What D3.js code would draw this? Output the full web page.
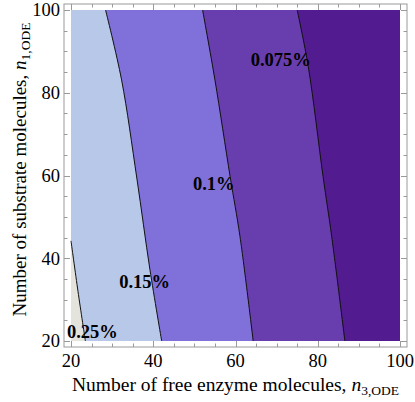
<!DOCTYPE html>
<html>
<head>
<meta charset="utf-8">
<script src="https://cdn.jsdelivr.net/npm/d3@7"></script>
<style>
  html, body { margin: 0; padding: 0; background: #fff; }
  svg { display: block; font-family: "Liberation Serif", "Times New Roman", Times, serif; }
</style>
</head>
<body>
<svg id="chart" width="415" height="402"></svg>
<script>
// ---- data ----
const xDomain = [20, 100];
const yDomain = [20, 100];
const majorTicks = [20, 40, 60, 80, 100];
const minorTicks = [20, 25, 30, 35, 40, 45, 50, 55, 60, 65, 70, 75, 80, 85, 90, 95, 100];

const levelLabels = ["0.25%", "0.15%", "0.1%", "0.075%"];
// contour lines: [n3, n1] points
const contour025 = [[20, 44.2], [21.7, 32.0], [23.5, 20]];
const contour015 = [[28.4, 100], [32.3, 83.1], [36.0, 59.4], [39.2, 37.2], [42.05, 20]];
const contour010 = [[52.0, 100], [55.0, 83.1], [58.7, 59.7], [61.1, 45.2], [64.3, 20]];
const contour0075 = [[75.0, 100], [77.7, 86.3], [81.3, 59.7], [83.4, 45.2], [86.6, 20]];
// label anchor points [n3, n1]
const labelPoints = [[25.2, 22.3], [37.9, 34.3], [54.7, 58.2], [71.0, 88.1]];

const regionColors = ["#e4e4dc", "#b7c8e9", "#8070d9", "#683dae", "#521b8f"];

// ---- drawing ----
const svg = d3.select("#chart");
const x = d3.scaleLinear().domain(xDomain).range([71, 400]);
const y = d3.scaleLinear().domain(yDomain).range([341, 10]);
const frame = { left: 64, right: 407, top: 4, bottom: 347 };

const lineGen = d3.line().x(d => x(d[0])).y(d => y(d[1])).curve(d3.curveCatmullRom);

// base fill (region between 0.25% and 0.15%)
svg.append("rect")
  .attr("x", x(xDomain[0])).attr("y", y(yDomain[1]))
  .attr("width", x(xDomain[1]) - x(xDomain[0]))
  .attr("height", y(yDomain[0]) - y(yDomain[1]))
  .attr("fill", regionColors[1]);

// region above 0.25% (left of the line)
svg.append("path")
  .attr("d", lineGen(contour025) + `L${x(20)},${y(20)}Z`)
  .attr("fill", regionColors[0]);

// regions right of each lower contour
const rightRegions = [contour015, contour010, contour0075];
rightRegions.forEach((c, i) => {
  svg.append("path")
    .attr("d", lineGen(c) + `L${x(100)},${y(20)}L${x(100)},${y(100)}Z`)
    .attr("fill", regionColors[i + 2]);
});

// contour lines
[contour025, contour015, contour010, contour0075].forEach(c => {
  svg.append("path")
    .attr("d", lineGen(c))
    .attr("fill", "none")
    .attr("stroke", "#111")
    .attr("stroke-width", 1);
});

// contour labels
svg.selectAll("text.clabel")
  .data(levelLabels)
  .join("text")
  .attr("class", "clabel")
  .attr("x", (d, i) => x(labelPoints[i][0]))
  .attr("y", (d, i) => y(labelPoints[i][1]))
  .attr("dy", "0.36em")
  .attr("text-anchor", "middle")
  .attr("font-weight", "bold")
  .attr("font-size", 18.5)
  .attr("fill", "#000")
  .text(d => d);

// frame
const frameColor = "#9a9a9a";
svg.append("rect")
  .attr("x", frame.left).attr("y", frame.top)
  .attr("width", frame.right - frame.left)
  .attr("height", frame.bottom - frame.top)
  .attr("fill", "none")
  .attr("stroke", frameColor)
  .attr("stroke-width", 1);

const tickLen = v => (majorTicks.includes(v) ? 6 : 3.5);
const tg = svg.append("g").attr("stroke", frameColor).attr("stroke-width", 1);
minorTicks.forEach(v => {
  const px = Math.round(x(v)) + 0.5, py = Math.round(y(v)) + 0.5;
  const L = tickLen(v);
  tg.append("line").attr("x1", px).attr("x2", px).attr("y1", frame.bottom).attr("y2", frame.bottom - L);
  tg.append("line").attr("x1", px).attr("x2", px).attr("y1", frame.top).attr("y2", frame.top + L);
  tg.append("line").attr("y1", py).attr("y2", py).attr("x1", frame.left).attr("x2", frame.left + L);
  tg.append("line").attr("y1", py).attr("y2", py).attr("x1", frame.right).attr("x2", frame.right - L);
});

// tick labels
svg.selectAll("text.xtick").data(majorTicks).join("text")
  .attr("class", "xtick")
  .attr("x", d => x(d)).attr("y", 367)
  .attr("text-anchor", "middle").attr("font-size", 18.5).attr("fill", "#000")
  .text(d => d);
svg.selectAll("text.ytick").data(majorTicks).join("text")
  .attr("class", "ytick")
  .attr("x", 60).attr("y", d => y(d)).attr("dy", "0.34em")
  .attr("text-anchor", "end").attr("font-size", 18.5).attr("fill", "#000")
  .text(d => d);

// axis titles
const xt = svg.append("text")
  .attr("x", (x(20) + x(100)) / 2).attr("y", 391)
  .attr("text-anchor", "middle").attr("font-size", 19.5).attr("fill", "#000");
xt.append("tspan").text("Number of free enzyme molecules, ");
xt.append("tspan").attr("font-style", "italic").text("n");
xt.append("tspan").attr("font-size", 13.5).attr("dy", 4).text("3,ODE");

const yt = svg.append("text")
  .attr("transform", `translate(26,${(y(20) + y(100)) / 2 - 6}) rotate(-90)`)
  .attr("text-anchor", "middle").attr("font-size", 19).attr("fill", "#000");
yt.append("tspan").text("Number of substrate molecules, ");
yt.append("tspan").attr("font-style", "italic").text("n");
yt.append("tspan").attr("font-size", 13.5).attr("dy", 4).text("1,ODE");
</script>
</body>
</html>
